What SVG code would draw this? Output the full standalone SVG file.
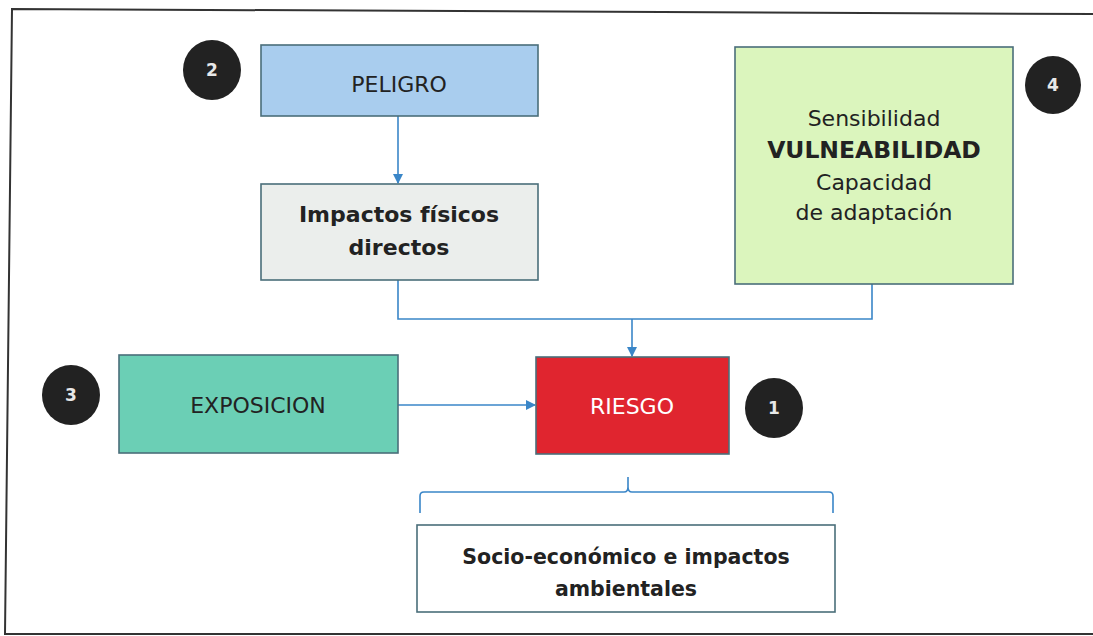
<svg xmlns="http://www.w3.org/2000/svg" width="1093" height="636" viewBox="0 0 1093 636">
<defs>
<marker id="arr" markerWidth="10" markerHeight="10" refX="9" refY="5" orient="auto" markerUnits="userSpaceOnUse">
<path d="M0,0 L10,5 L0,10 Z" fill="#3a86c8"/>
</marker>
</defs>
<style>
.box{stroke:#4a6e7a;stroke-width:1.6}
.t{font-family:"DejaVu Sans","Liberation Sans",sans-serif;font-size:22px;fill:#222;text-anchor:middle}
.b{font-weight:bold}
.num{fill:#222}
.nt{font-family:"DejaVu Sans","Liberation Sans",sans-serif;font-size:17px;font-weight:bold;fill:#e8e8e8;text-anchor:middle}
.c{fill:none;stroke:#3a86c8;stroke-width:1.6}
</style>
<rect width="1093" height="636" fill="#fff"/>
<path d="M1093,14 L12,9 L5,634 L1093,634" fill="none" stroke="#333" stroke-width="2"/>

<g id="connectors">
<line class="c" x1="398" y1="116" x2="398" y2="183" marker-end="url(#arr)"/>
<path class="c" d="M398,280 L398,319 L872,319 L872,284"/>
<line class="c" x1="632" y1="319" x2="632" y2="356" marker-end="url(#arr)"/>
<line class="c" x1="398" y1="405" x2="535" y2="405" marker-end="url(#arr)"/>
<path class="c" d="M420,513 L420,496 Q420,492 424,492 L624,492 Q628,492 628,487 L628,477 M628,487 Q628,492 632,492 L829,492 Q833,492 833,496 L833,513"/>
</g>

<g id="peligro">
<rect class="box" x="261" y="45" width="277" height="71" fill="#a9cdee"/>
<text class="t" x="399" y="92">PELIGRO</text>
</g>
<g id="impactos">
<rect class="box" x="261" y="184" width="277" height="96" fill="#ebeeec"/>
<text class="t b" x="399" y="222">Impactos físicos</text>
<text class="t b" x="399" y="255">directos</text>
</g>
<g id="vulnerabilidad">
<rect class="box" x="735" y="47" width="278" height="237" fill="#dbf5bd"/>
<text class="t" x="874" y="126">Sensibilidad</text>
<text class="t b" x="874" y="158" style="font-size:23.5px">VULNEABILIDAD</text>
<text class="t" x="874" y="190">Capacidad</text>
<text class="t" x="874" y="220">de adaptación</text>
</g>
<g id="exposicion">
<rect class="box" x="119" y="355" width="279" height="98" fill="#6bcfb5"/>
<text class="t" x="258" y="413">EXPOSICION</text>
</g>
<g id="riesgo">
<rect class="box" x="536" y="357" width="193" height="97" fill="#e0252f"/>
<text class="t" x="632" y="414" style="fill:#fff">RIESGO</text>
</g>
<g id="impactos-socio">
<rect class="box" x="417" y="525" width="418" height="87" fill="#fff"/>
<text class="t b" x="626" y="564" style="font-size:20.5px">Socio-económico e impactos</text>
<text class="t b" x="626" y="596" style="font-size:20.5px">ambientales</text>
</g>

<g id="n1"><ellipse class="num" cx="774" cy="408" rx="29" ry="30"/><text class="nt" x="774" y="414">1</text></g>
<g id="n2"><ellipse class="num" cx="212" cy="70" rx="29" ry="30"/><text class="nt" x="212" y="76">2</text></g>
<g id="n3"><ellipse class="num" cx="71" cy="395" rx="29" ry="30"/><text class="nt" x="71" y="401">3</text></g>
<g id="n4"><ellipse class="num" cx="1053" cy="85" rx="28" ry="29"/><text class="nt" x="1053" y="91">4</text></g>
</svg>
